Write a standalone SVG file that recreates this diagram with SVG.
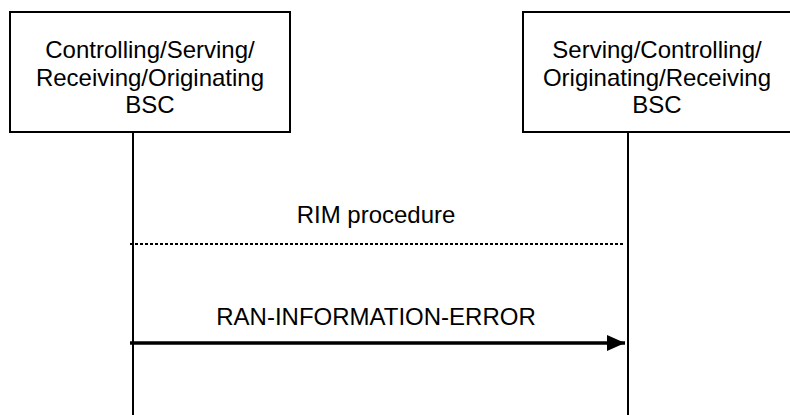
<svg xmlns="http://www.w3.org/2000/svg" width="790" height="415" viewBox="0 0 790 415">
<style>
  .box { fill: #ffffff; stroke: #000000; stroke-width: 2; }
  .lbl { font-family: "Liberation Sans", Arial, sans-serif; font-size: 24px; fill: #000000; text-anchor: middle; }
  .life { stroke: #000000; stroke-width: 2; fill: none; }
  .dash { stroke: #000000; stroke-width: 2; stroke-dasharray: 3 2; fill: none; }
  .msg { stroke: #000000; stroke-width: 3.5; fill: none; }
</style>
<defs>
  <marker id="arrow" markerUnits="userSpaceOnUse" markerWidth="18" markerHeight="16" refX="18" refY="8" orient="auto">
    <path d="M0,0 L18,8 L0,16 Z" fill="#000000"/>
  </marker>
</defs>
<rect width="790" height="415" fill="#ffffff"/>
<g id="node-left">
  <rect class="box" x="10" y="12" width="280" height="120"/>
  <text class="lbl" x="150" y="58">Controlling/Serving/</text>
  <text class="lbl" x="150" y="86">Receiving/Originating</text>
  <text class="lbl" x="150" y="113">BSC</text>
</g>
<g id="node-right">
  <rect class="box" x="523" y="12" width="270" height="120"/>
  <text class="lbl" x="657" y="58">Serving/Controlling/</text>
  <text class="lbl" x="657" y="86">Originating/Receiving</text>
  <text class="lbl" x="657" y="113">BSC</text>
</g>
<g id="connectors">
  <line class="life" x1="133" y1="132" x2="133" y2="415"/>
  <line class="life" x1="628" y1="132" x2="628" y2="415"/>
  <line class="dash" x1="130" y1="244" x2="625" y2="244"/>
  <text class="lbl" x="376" y="223">RIM procedure</text>
  <line class="msg" x1="130" y1="343" x2="625" y2="343" marker-end="url(#arrow)"/>
  <text class="lbl" x="376" y="325">RAN-INFORMATION-ERROR</text>
</g>
</svg>
